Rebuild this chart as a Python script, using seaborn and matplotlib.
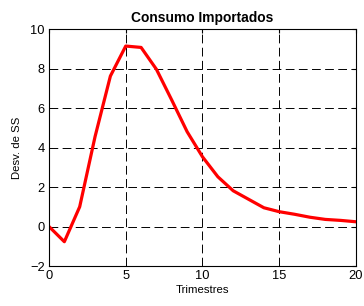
import pandas as pd
import matplotlib
matplotlib.use("Agg")
import matplotlib.pyplot as plt
import seaborn as sns

trimestres = list(range(21))
desv_ss = [0.0, -0.77, 1.0, 4.55, 7.62, 9.14, 9.07, 7.96, 6.4, 4.8,
           3.53, 2.52, 1.81, 1.38, 0.95, 0.75, 0.62, 0.47, 0.36, 0.31, 0.24]
x_ticks = [0, 5, 10, 15, 20]
y_ticks = [-2, 0, 2, 4, 6, 8, 10]


def graficar(df):
    sns.set_style("white")
    plt.rcParams["font.family"] = ["Liberation Sans", "DejaVu Sans"]
    plt.rcParams["text.color"] = "black"
    plt.rcParams["axes.labelcolor"] = "black"

    fig = plt.figure(figsize=(3.64, 3.06), dpi=100)
    ax = fig.add_axes([0.1346, 0.1307, 0.8434, 0.7743])

    sns.lineplot(data=df, x="Trimestres", y="Desv", color="#ff0000",
                 linewidth=2.3, ax=ax)

    ax.set_xlim(0, 20)
    ax.set_ylim(-2, 10)
    ax.set_xticks(x_ticks)
    ax.set_yticks(y_ticks)
    ax.tick_params(direction="in", labelsize=9.3, colors="black", length=3,
                   top=True, right=True, pad=3)
    ax.grid(True, color="black", linestyle=(0, (9, 4.5)), linewidth=0.7)
    for s in ax.spines.values():
        s.set_color("black")
        s.set_linewidth(0.8)

    ax.set_title("Consumo Importados", fontsize=9.9, fontweight="bold",
                 color="black", pad=5)
    ax.set_xlabel("Trimestres", fontsize=8.2, labelpad=2)
    ax.set_ylabel("Desv. de SS", fontsize=8.2, labelpad=6)

    fig.savefig("out.png", dpi=100)
    plt.close(fig)


def main():
    df = pd.DataFrame({"Trimestres": trimestres, "Desv": desv_ss})
    graficar(df)


if __name__ == "__main__":
    main()
